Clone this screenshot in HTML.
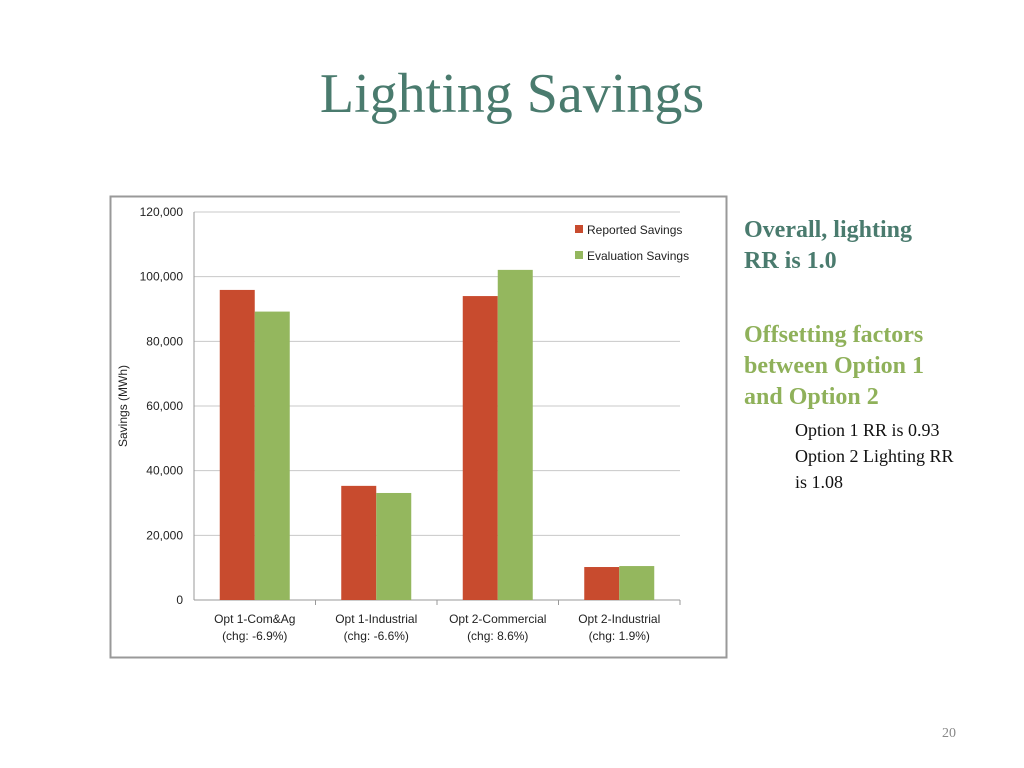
<!DOCTYPE html>
<html><head><meta charset="utf-8"><style>
body{margin:0;width:1024px;height:768px;background:#fff;position:relative;overflow:hidden;font-family:"Liberation Serif",serif}
#title{position:absolute;left:0;width:1024px;top:62px;text-align:center;font-size:56px;color:#4a7b6e}
.side{position:absolute;left:744px;font-weight:bold;font-size:24px;line-height:31px;color:#4a7b6e}
.sub{position:absolute;left:795px;font-size:18px;line-height:26px;color:#111}
#pg{position:absolute;left:942px;top:726px;font-size:14px;color:#888}
</style></head><body>
<div id="title">Lighting Savings</div>
<div class="side" style="top:215px">Overall, lighting<br>RR is 1.0</div>
<div class="side" style="top:320px;color:#8fb15a">Offsetting factors<br>between Option 1<br>and Option 2</div>
<div class="sub" style="top:417px">Option 1 RR is 0.93</div>
<div class="sub" style="top:443px">Option 2 Lighting RR<br>is 1.08</div>
<div id="pg">20</div>
<svg id="chart" width="1024" height="768" style="position:absolute;left:0;top:0" font-family="Liberation Sans, sans-serif">
<rect x="110.5" y="196.5" width="616" height="461" fill="#fff" stroke="#999" stroke-width="2"/>
<g id="g"></g>
</svg>
<script>
const categories=["Opt 1-Com&Ag","Opt 1-Industrial","Opt 2-Commercial","Opt 2-Industrial"];
const changes=["(chg: -6.9%)","(chg: -6.6%)","(chg: 8.6%)","(chg: 1.9%)"];
const reported=[95900,35300,94000,10200];
const evaluation=[89200,33100,102100,10500];
const ticks=[0,20000,40000,60000,80000,100000,120000];
const NS="http://www.w3.org/2000/svg",g=document.getElementById('g');
const x0=194,x1=680,yb=600,yt=212,ymax=120000;
const y=v=>yb-(yb-yt)*v/ymax;
const cw=(x1-x0)/categories.length;
function mk(t,a,txt){const e=document.createElementNS(NS,t);for(const k in a)e.setAttribute(k,a[k]);if(txt!=null)e.textContent=txt;g.appendChild(e);return e;}
ticks.forEach(t=>{
 const l=mk('line',{x1:x0,x2:x1,y1:y(t),y2:y(t),stroke:t?'#c8c8c8':'#999'});
 
 
 const tx=mk('text',{x:183,y:y(t)+4,'text-anchor':'end','font-size':12,fill:'#222'},t.toLocaleString('en-US'));
 
 
});
const ax=mk('line',{x1:x0,x2:x0,y1:yt,y2:yb,stroke:'#999'});


const yl=mk('text',{transform:'translate(127,406) rotate(-90)','text-anchor':'middle','font-size':12,fill:'#222'},'Savings (MWh)');


categories.forEach((c,i)=>{
 const cx=x0+cw*(i+0.5);
 const tk=mk('line',{x1:x0+cw*(i+1),x2:x0+cw*(i+1),y1:yb,y2:yb+5,stroke:'#999'});
 
 
 const r=mk('rect',{x:cx-35,y:y(reported[i]),width:35,height:yb-y(reported[i]),fill:'#c84b2e'});
 
 
 const e=mk('rect',{x:cx,y:y(evaluation[i]),width:35,height:yb-y(evaluation[i]),fill:'#94b75e'});
 
 
 const t1=mk('text',{x:cx,y:623,'text-anchor':'middle','font-size':12,fill:'#222'},c);
 
 
 const t2=mk('text',{x:cx,y:640,'text-anchor':'middle','font-size':12,fill:'#222'},changes[i]);
 
 
});
[['Reported Savings','#c84b2e',230],['Evaluation Savings','#94b75e',256]].forEach(([n,c,yy])=>{
 const s=mk('rect',{x:575,y:yy-5,width:8,height:8,fill:c});
 
 
 const t=mk('text',{x:587,y:yy+4,'font-size':12,fill:'#222'},n);
 
 
});
</script>
</body></html>
